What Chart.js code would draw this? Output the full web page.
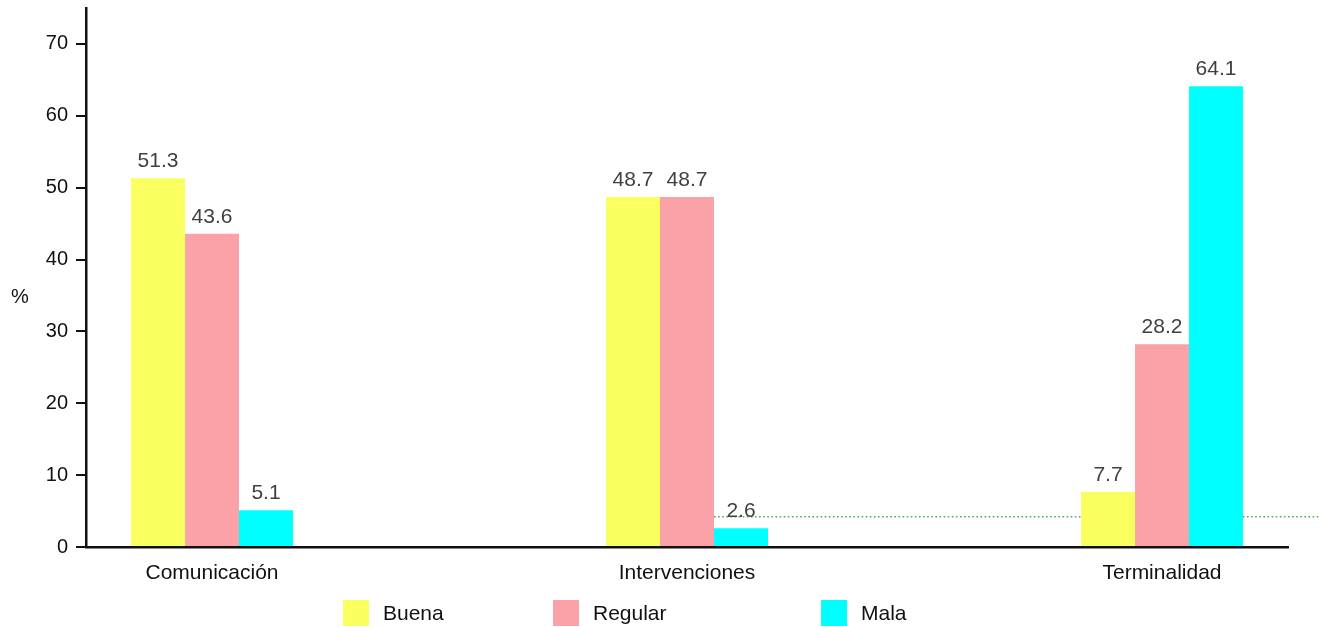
<!DOCTYPE html>
<html>
<head>
<meta charset="utf-8">
<script src="https://cdn.jsdelivr.net/npm/chart.js@4.4.1/dist/chart.umd.min.js"></script>
<style>
  html, body { margin: 0; padding: 0; background: #fff; }
  #wrap { position: relative; width: 1319px; height: 627px; }
  #c { position: absolute; left: 0; top: 0; }
  #pct { position: absolute; left: 11px; top: 285px; font: 20px "Liberation Sans", Arial, sans-serif; color: #111; }
  .lg { position: absolute; top: 600px; height: 26px; display: flex; align-items: center;
        font: 21px "Liberation Sans", Arial, sans-serif; color: #111; white-space: nowrap; }
  .lg .box { width: 26px; height: 26px; display: inline-block; margin-right: 14px; }
</style>
</head>
<body>
<div id="wrap">
  <canvas id="c" width="1319" height="627"></canvas>
  <div id="pct">%</div>
  <div id="legend"></div>
</div>
<script>
// ---- data ----
const categories = ['Comunicación', 'Intervenciones', 'Terminalidad'];
const seriesNames = ['Buena', 'Regular', 'Mala'];
const buena   = [51.3, 48.7, 7.7];
const regular = [43.6, 48.7, 28.2];
const mala    = [5.1, 2.6, 64.1];
const yTicks  = [0, 10, 20, 30, 40, 50, 60, 70];
const referenceLine = 4.2;

// ---- style ----
const colors = ['#F9FF5E', '#FAA2A8', '#00FFFF'];
const legendLefts = [343, 553, 821];
const FONT = '"Liberation Sans", Arial, sans-serif';

const seriesValues = [buena, regular, mala];
const datasets = seriesNames.map((name, s) => ({
  label: name,
  data: categories.map((c, i) => ({ x: i, y: seriesValues[s][i] })),
  backgroundColor: colors[s],
  borderWidth: 0,
  categoryPercentage: 0.341,
  barPercentage: 1.0
}));

// dotted reference line, drawn behind bars
const refLinePlugin = {
  id: 'refLine',
  beforeDatasetsDraw(chart) {
    const ctx = chart.ctx;
    const y = chart.scales.y.getPixelForValue(referenceLine);
    const el = chart.getDatasetMeta(2).data[1];
    const x0 = el.x - el.width / 2;
    ctx.save();
    ctx.strokeStyle = '#4CAF50';
    ctx.lineWidth = 1.6;
    ctx.setLineDash([1.6, 2.5]);
    ctx.beginPath();
    ctx.moveTo(x0, y);
    ctx.lineTo(chart.width, y);
    ctx.stroke();
    ctx.restore();
  }
};

// value labels above bars
const valueLabelPlugin = {
  id: 'valueLabels',
  afterDatasetsDraw(chart) {
    const ctx = chart.ctx;
    ctx.save();
    ctx.font = '21px ' + FONT;
    ctx.fillStyle = '#404040';
    ctx.textAlign = 'center';
    ctx.textBaseline = 'alphabetic';
    chart.data.datasets.forEach((ds, d) => {
      chart.getDatasetMeta(d).data.forEach((el, i) => {
        ctx.fillText(ds.data[i].y.toFixed(1), el.x, el.y - 11);
      });
    });
    ctx.restore();
  }
};

new Chart(document.getElementById('c'), {
  type: 'bar',
  data: { datasets },
  options: {
    responsive: false,
    animation: false,
    devicePixelRatio: 1,
    layout: { padding: { top: 8, right: 31, left: 0, bottom: 0 } },
    plugins: { legend: { display: false }, tooltip: { enabled: false } },
    scales: {
      x: {
        type: 'linear',
        min: -0.2653,
        max: 2.2653,
        offset: false,
        grid: { display: false, drawTicks: false },
        border: { display: true, color: '#111', width: 2.5 },
        ticks: {
          stepSize: 1,
          includeBounds: false,
          autoSkip: false,
          maxRotation: 0,
          padding: 14,
          color: '#111',
          font: { family: FONT, size: 21 },
          callback: (v) => (Number.isInteger(v) && categories[v] !== undefined) ? categories[v] : ''
        },
        afterFit: (scale) => { scale.height = 80; scale.paddingLeft = 0; scale.paddingRight = 0; }
      },
      y: {
        min: 0,
        max: 75,
        grid: { display: true, drawOnChartArea: false, drawTicks: true, tickLength: 10,
                color: '#111', tickColor: '#111', lineWidth: 2 },
        border: { display: true, color: '#111', width: 2.5 },
        afterBuildTicks: (scale) => { scale.ticks = yTicks.map(v => ({ value: v })); },
        ticks: {
          padding: 8,
          color: '#111',
          font: { family: FONT, size: 20 }
        },
        afterFit: (scale) => { scale.width = 86; scale.paddingTop = 0; scale.paddingBottom = 0; }
      }
    }
  },
  plugins: [refLinePlugin, valueLabelPlugin]
});

// HTML legend
const legend = document.getElementById('legend');
seriesNames.forEach((name, s) => {
  const item = document.createElement('div');
  item.className = 'lg';
  item.style.left = legendLefts[s] + 'px';
  const box = document.createElement('span');
  box.className = 'box';
  box.style.background = colors[s];
  item.appendChild(box);
  item.appendChild(document.createTextNode(name));
  legend.appendChild(item);
});
</script>
</body>
</html>
